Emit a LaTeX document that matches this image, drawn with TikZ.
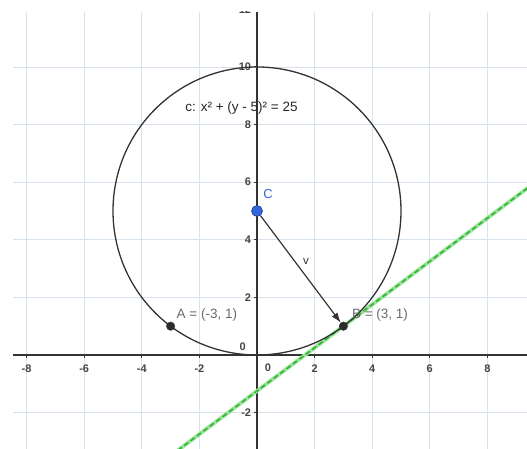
\documentclass[tikz,border=0pt]{standalone}
\usepackage{fontspec}
\setmainfont{Liberation Sans}
\usetikzlibrary{arrows.meta}
\definecolor{gridc}{HTML}{D8E2EC}
\definecolor{axisc}{HTML}{333333}
\definecolor{labc}{HTML}{444444}
\definecolor{ptlab}{HTML}{6A6A6A}
\definecolor{cblue}{HTML}{3366DD}
\definecolor{lgreen}{HTML}{98E498}
\definecolor{dgreen}{HTML}{34B034}
\tikzset{
  gridline/.style={gridc, line width=0.7pt},
  axisline/.style={axisc, line width=1.9pt},
  tickmark/.style={axisc, line width=1pt},
  ticklab/.style={text=labc, font=\fontsize{11}{13}\selectfont\bfseries, inner sep=0pt},
  ptlabel/.style={text=ptlab, font=\fontsize{13.5}{15}\selectfont, inner sep=0pt},
  curve/.style={axisc, line width=1.3pt},
  pt/.style={circle, fill=axisc!85!black, draw=axisc, inner sep=0pt, minimum size=8.5pt},
  bluept/.style={circle, fill=cblue, draw=cblue!60!black, line width=0.6pt, inner sep=0pt, minimum size=11pt},
  vec/.style={axisc, line width=1.2pt, -{Latex[length=10pt,width=7pt]}},
}
\begin{document}
\begin{tikzpicture}[x=28.8pt,y=28.8pt]
\useasboundingbox (-8.924,-3.264) rectangle (9.375,12.326);
\clip (-8.924,-3.264) rectangle (9.375,12.326);
% grid
\foreach \x in {-8,-6,-4,-2,2,4,6,8} \draw[gridline] (\x,-3.4) -- (\x,11.91);
\foreach \y in {-2,2,4,6,8,10} \draw[gridline] (-8.47,\y) -- (9.5,\y);
% axes
\coordinate (xa1) at (-8.47,0);
\coordinate (xa2) at (9.5,0);
\coordinate (ya1) at (0,-3.4);
\coordinate (ya2) at (0,11.91);
\draw[axisline] (xa1) -- (xa2);
\draw[axisline] (ya1) -- (ya2);
% ticks and labels
\foreach \x [count=\i] in {-8,-6,-4,-2,2,4,6,8} {
  \draw[tickmark] (\x,0) -- (\x,-0.1);
  \node[ticklab] (xl\i) at (\x,-0.49) {\x};
}
\foreach \y [count=\i] in {-2,2,4,6,8,10} {
  \draw[tickmark] (0,\y) -- (-0.1,\y);
  \node[ticklab, anchor=east] (yl\i) at (-0.2,\y) {\y};
}
\node[ticklab] (x0) at (0.38,-0.43) {0};
\node[ticklab] (y0) at (-0.5,0.27) {0};
\begin{scope}
\clip (-2,-1) rectangle (2,11.93);
\node[ticklab, anchor=east] (yl12) at (-0.2,12) {12};
\end{scope}
% tangent line
\coordinate (L1) at (-2.75,-3.3125);
\coordinate (L2) at (9.45,5.8375);
\draw[lgreen, line width=3.8pt] (L1) -- (L2);
\draw[dgreen, line width=1.5pt, dash pattern=on 5pt off 3pt] (L1) -- (L2);
% circle
\draw[curve] (0,5) circle (5);
\node[text=black!85, font=\fontsize{13.5}{15}\selectfont, inner sep=0pt] (clab) at (-0.54,8.58) {c: x² + (y - 5)² = 25};
% points
\node[pt] (A) at (-3,1) {};
\node[pt] (B) at (3,1) {};
\node[bluept] (C) at (0,5) {};
\draw[vec] (C) -- (B);
\node[ptlabel] (Alab) at (-1.74,1.39) {A = (-3, 1)};
\node[ptlabel] (Blab) at (4.27,1.39) {B = (3, 1)};
\node[text=cblue, font=\fontsize{13}{15}\selectfont, inner sep=0pt] (Clab) at (0.38,5.59) {C};
\node[text=axisc, font=\fontsize{11.5}{13}\selectfont, inner sep=0pt] (vlab) at (1.70,3.23) {v};
\end{tikzpicture}
\end{document}
